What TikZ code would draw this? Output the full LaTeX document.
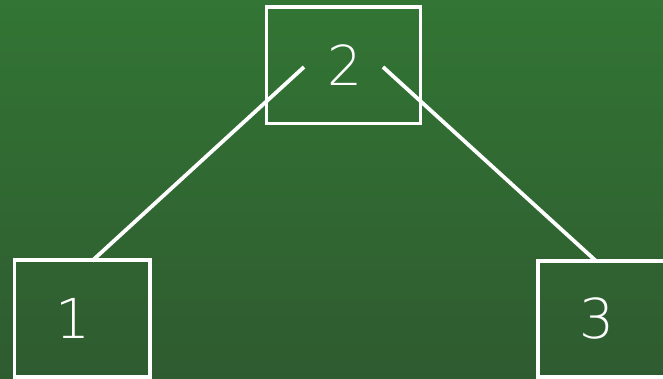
\documentclass[tikz,border=0pt]{standalone}
\usepackage{fontspec}
\newfontfamily\digitfont{DejaVu Sans ExtraLight}
\definecolor{bgtop}{RGB}{50,117,52}
\definecolor{bgbot}{RGB}{47,91,48}
\begin{document}
\begin{tikzpicture}[x=1pt,y=-1pt,
  box/.style={draw=white,line width=3.8pt,rectangle,inner sep=0pt,outer sep=0pt},
  digit/.style={text=white,font=\digitfont\fontsize{55}{55}\selectfont,inner sep=0pt},
  edge/.style={draw=white,line width=3.8pt}]
\useasboundingbox (0,0) rectangle (663,379);
\clip (0,0) rectangle (663,379);
\shade[top color=bgtop,bottom color=bgbot] (0,0) rectangle (663,379);
\node[box,minimum width=154pt,minimum height=116.5pt] (b2) at (343.5,65.25) {};
\node[box,minimum width=135.5pt,minimum height=117pt] (b1) at (82.25,318.5) {};
\node[box,minimum width=138pt,minimum height=116pt] (b3) at (607,319) {};
\node[digit] (t2) at (345,65) {2};
\node[digit] (t1) at (72.5,318) {1};
\node[digit] (t3) at (597,318) {3};
\coordinate (s1) at (304,67);
\coordinate (e1) at (92,261);
\coordinate (s3) at (383,67);
\coordinate (e3) at (596,261);
\draw[edge] (s1) -- (e1);
\draw[edge] (s3) -- (e3);
\end{tikzpicture}
\end{document}
